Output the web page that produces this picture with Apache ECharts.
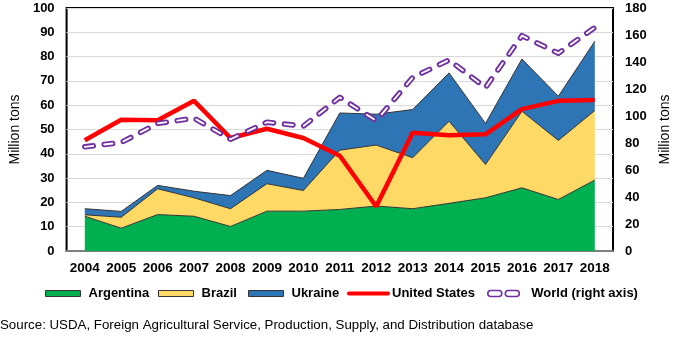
<!DOCTYPE html>
<html>
<head>
<meta charset="utf-8">
<script src="https://cdn.jsdelivr.net/npm/echarts@6/dist/echarts.min.js"></script>
<style>html,body{margin:0;padding:0;background:#fff;}#c{width:680px;height:340px;}</style>
</head>
<body>
<div id="c"></div>
<script>
const years = ['2004','2005','2006','2007','2008','2009','2010','2011','2012','2013','2014','2015','2016','2017','2018'];
const argentina = [14.3, 9.4, 15.0, 14.3, 10.1, 16.4, 16.4, 17.1, 18.5, 17.4, 19.6, 21.9, 26.0, 21.2, 29.2];
const brazil    = [0.6, 4.5, 10.6, 7.6, 7.3, 11.3, 8.5, 24.4, 25.1, 21.0, 33.8, 13.7, 31.5, 24.3, 28.6];
const ukraine   = [2.5, 2.4, 1.4, 2.7, 5.4, 5.5, 5.0, 15.3, 12.7, 19.8, 19.9, 16.9, 21.5, 18.2, 28.5];
const unitedStates = [45.6, 54.0, 53.8, 61.8, 46.5, 50.3, 46.5, 39.2, 18.3, 48.7, 47.6, 48.0, 58.4, 61.8, 62.1];
const world = [77.2, 80.4, 94.5, 98.4, 82.8, 95.4, 92.5, 113.8, 96.5, 128.5, 141.5, 121.0, 159.5, 146.5, 165.5];
const leftTicks = [0, 100, 10];
const rightTicks = [0, 180, 20];

const FONT = "'Liberation Sans', Arial, sans-serif";
const chart = echarts.init(document.getElementById('c'), null, {renderer: 'canvas'});

const legendText = {fontFamily: FONT, fontWeight: 'bold', fontSize: 13, color: '#000'};
function leg(left, extra) {
  return Object.assign({
    orient: 'horizontal', top: 282, left: left, itemWidth: 35, itemHeight: 6, itemGap: 0,
    padding: [5, 0, 5, 0], selectedMode: false,
    textStyle: Object.assign({}, legendText, {padding: [0, 0, 0, 3]})
  }, extra);
}
const usIcon = 'path://M2,0 H41 A2,2 0 0 1 41,4 H2 A2,2 0 0 1 2,0 Z';
const worldIcon = 'path://M3,0 H11 A3,3 0 0 1 11,6 H3 A3,3 0 0 1 3,0 Z M20.5,0 H28.5 A3,3 0 0 1 28.5,6 H20.5 A3,3 0 0 1 20.5,0 Z';

chart.setOption({
  animation: false,
  grid: {left: 57, right: 60, top: 8, bottom: 89, show: true, borderColor: '#000', borderWidth: 2, backgroundColor: 'transparent'},
  xAxis: {
    type: 'category', data: years, boundaryGap: true,
    axisTick: {show: false},
    axisLine: {lineStyle: {color: '#7f7f7f', width: 2}},
    axisLabel: {fontFamily: FONT, fontWeight: 'bold', fontSize: 13.5, color: '#000', margin: 10, interval: 0}
  },
  yAxis: [
    {type: 'value', min: leftTicks[0], max: leftTicks[1], interval: leftTicks[2],
     name: 'Million tons', nameLocation: 'middle', nameGap: 31, nameRotate: 90,
     nameTextStyle: {fontFamily: FONT, fontSize: 14, color: '#000'},
     axisLine: {show: false}, axisTick: {show: false},
     axisLabel: {fontFamily: FONT, fontWeight: 'bold', fontSize: 13, color: '#000', margin: 12},
     splitLine: {lineStyle: {color: '#d9d9d9', width: 1.2}}},
    {type: 'value', min: rightTicks[0], max: rightTicks[1], interval: rightTicks[2],
     name: 'Million tons', nameLocation: 'middle', nameGap: 45, nameRotate: 90,
     nameTextStyle: {fontFamily: FONT, fontSize: 14, color: '#000'},
     axisLine: {show: false}, axisTick: {show: false},
     axisLabel: {fontFamily: FONT, fontWeight: 'bold', fontSize: 13, color: '#000', margin: 12},
     splitLine: {show: false}}
  ],
  legend: [
    leg(45, {data: [{name: 'Argentina', icon: 'rect', itemStyle: {color: '#00b050', borderColor: '#333', borderWidth: 1}}]}),
    leg(158, {data: [{name: 'Brazil', icon: 'rect', itemStyle: {color: '#ffd966', borderColor: '#333', borderWidth: 1}}]}),
    leg(248, {data: [{name: 'Ukraine', icon: 'rect', itemStyle: {color: '#2e75b6', borderColor: '#333', borderWidth: 1}}]}),
    leg(347, {itemWidth: 43, itemHeight: 4, textStyle: Object.assign({}, legendText, {padding: [0, 0, 0, -3]}),
      data: [{name: 'United States', icon: usIcon, itemStyle: {color: '#ff0000', borderWidth: 0}}]}),
    leg(487, {itemWidth: 31.5, itemHeight: 6, textStyle: Object.assign({}, legendText, {padding: [0, 0, 0, 7]}),
      data: [{name: 'World (right axis)', icon: worldIcon, itemStyle: {color: '#fff', borderColor: '#7030a0', borderWidth: 1.6}}]})
  ],
  series: [
    {name: 'Argentina', type: 'line', stack: 'exp', data: argentina, symbol: 'none',
     lineStyle: {color: '#333', width: 1}, itemStyle: {color: '#00b050'}, areaStyle: {color: '#00b050', opacity: 1}, z: 2},
    {name: 'Brazil', type: 'line', stack: 'exp', data: brazil, symbol: 'none',
     lineStyle: {color: '#333', width: 1}, itemStyle: {color: '#ffd966'}, areaStyle: {color: '#ffd966', opacity: 1}, z: 2},
    {name: 'Ukraine', type: 'line', stack: 'exp', data: ukraine, symbol: 'none',
     lineStyle: {color: '#333', width: 1}, itemStyle: {color: '#2e75b6'}, areaStyle: {color: '#2e75b6', opacity: 1}, z: 2},
    {name: 'United States', type: 'line', data: unitedStates, symbol: 'none',
     lineStyle: {color: '#ff0000', width: 4.5}, itemStyle: {color: '#ff0000'}, z: 4},
    {name: 'World (right axis)', type: 'line', yAxisIndex: 1, data: world, symbol: 'none',
     lineStyle: {color: '#7030a0', width: 5.5, type: [8.5, 11], cap: 'round', join: 'round'}, itemStyle: {color: '#7030a0'}, z: 5},
    {name: 'World inner', type: 'line', yAxisIndex: 1, data: world, symbol: 'none',
     lineStyle: {color: '#ffffff', width: 1.8, type: [8.5, 11], cap: 'round', join: 'round'}, itemStyle: {color: '#fff'}, z: 6}
  ],
  graphic: [
    {type: 'text', left: 0, top: 319, style: {text: 'Source: USDA, Foreign Agricultural Service, Production, Supply, and Distribution database', fontFamily: FONT, fontSize: 13.3, fill: '#000'}}
  ]
});
</script>
</body>
</html>
